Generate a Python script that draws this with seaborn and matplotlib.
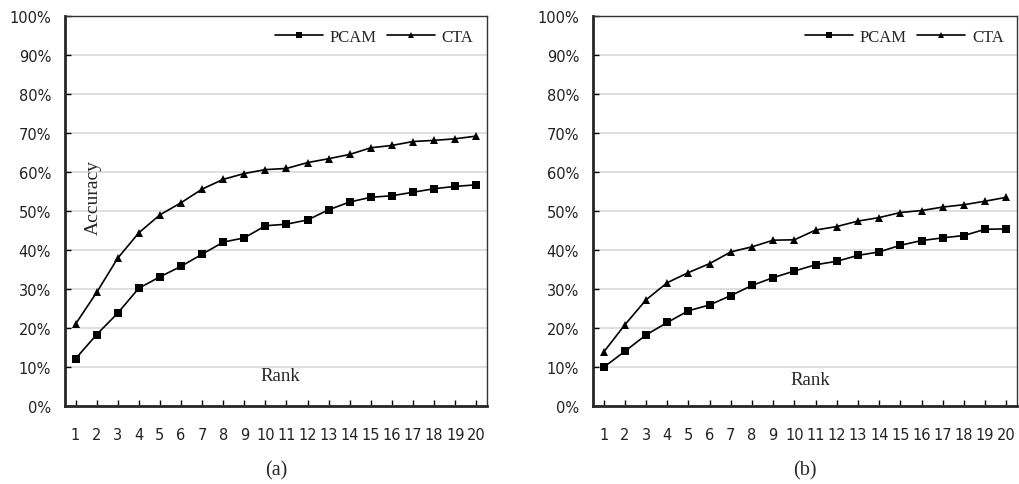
# -*- coding: utf-8 -*-
### Rank accuracy curves, PCAM vs CTA ###

import pandas as pd
import matplotlib
matplotlib.use("Agg")
import matplotlib.pyplot as plt
import seaborn as sns

sns.set_style("white")

## data (in %) ##
ranks = list(range(1, 21))
pcam_a = [12.1, 18.3, 23.8, 30.2, 33.1, 35.8, 38.9, 42.0, 43.1, 46.2,
          46.6, 47.7, 50.3, 52.3, 53.5, 53.9, 54.8, 55.7, 56.3, 56.7]
cta_a = [21.0, 29.1, 37.9, 44.4, 49.0, 52.1, 55.6, 58.1, 59.6, 60.6,
         60.9, 62.4, 63.4, 64.5, 66.2, 66.8, 67.8, 68.1, 68.5, 69.2]
pcam_b = [9.9, 14.0, 18.2, 21.4, 24.4, 25.9, 28.3, 30.9, 32.9, 34.6,
          36.2, 37.1, 38.6, 39.5, 41.2, 42.4, 43.1, 43.7, 45.3, 45.4]
cta_b = [13.8, 20.8, 27.2, 31.6, 34.2, 36.5, 39.5, 40.8, 42.5, 42.6,
         45.1, 46.0, 47.4, 48.3, 49.6, 50.1, 51.0, 51.6, 52.5, 53.5]
yticks = list(range(0, 101, 10))
ytick_labels = ["{}%".format(v) for v in yticks]
captions = ["(a)", "(b)"]

serif = "Liberation Serif"
sans = "DejaVu Sans"

fig = plt.figure(figsize=(10.19, 4.85), dpi=100)
ax_a = fig.add_axes([0.0638, 0.161, 0.414, 0.804])
ax_b = fig.add_axes([0.582, 0.161, 0.416, 0.804])


def draw_panel(ax, pcam, cta, caption, show_ylabel, rank_xy):
    df = pd.DataFrame({"Rank": ranks * 2,
                       "Accuracy": pcam + cta,
                       "Method": ["PCAM"] * 20 + ["CTA"] * 20})
    sns.lineplot(data=df, x="Rank", y="Accuracy", style="Method",
                 markers={"PCAM": "s", "CTA": "^"},
                 dashes=False, color="black", linewidth=1.2,
                 markersize=5.8, markeredgewidth=0, ax=ax)
    ax.set_xlim(0.5, 20.5)
    ax.set_ylim(0, 100)
    ax.set_xticks(ranks)
    ax.set_yticks(yticks)
    ax.set_yticklabels(ytick_labels)
    ax.yaxis.grid(True, color="#d9d9d9", linewidth=1.2)
    ax.set_axisbelow(True)
    ax.tick_params(axis="both", direction="in", length=4, width=1,
                   labelsize=10.5, labelcolor="#222222", colors="black")
    ax.tick_params(axis="x", pad=15, bottom=True)
    ax.tick_params(axis="y", pad=10, left=True)
    for lab in ax.get_xticklabels() + ax.get_yticklabels():
        lab.set_family(sans)
    ax.spines["left"].set_linewidth(2)
    ax.spines["bottom"].set_linewidth(2)
    for s in ["top", "right"]:
        ax.spines[s].set_linewidth(1)
        ax.spines[s].set_color("#333333")
    ax.set_xlabel("")
    ax.set_ylabel("")
    ax.text(rank_xy[0], rank_xy[1], "Rank", family=serif, fontsize=13.5,
            ha="center", va="center")
    if show_ylabel:
        ax.text(1.83, 53.8, "Accuracy", rotation=90, family=serif,
                fontsize=14, ha="center", va="center")
    ax.text(0.5, -0.163, caption, transform=ax.transAxes,
            family=serif, fontsize=14.5, ha="center", va="center")
    leg = ax.legend(loc="upper right", ncol=2, frameon=False,
                    prop={"family": serif, "size": 12},
                    handlelength=2.9, columnspacing=0.6, handletextpad=0.4,
                    borderaxespad=0.4, bbox_to_anchor=(1.0, 1.0))
    for h in leg.legend_handles:
        h.set_markersize(5)


draw_panel(ax_a, pcam_a, cta_a, captions[0], True, (10.7, 7.7))
draw_panel(ax_b, pcam_b, cta_b, captions[1], False, (10.74, 6.9))

fig.savefig("out.png", dpi=100)
